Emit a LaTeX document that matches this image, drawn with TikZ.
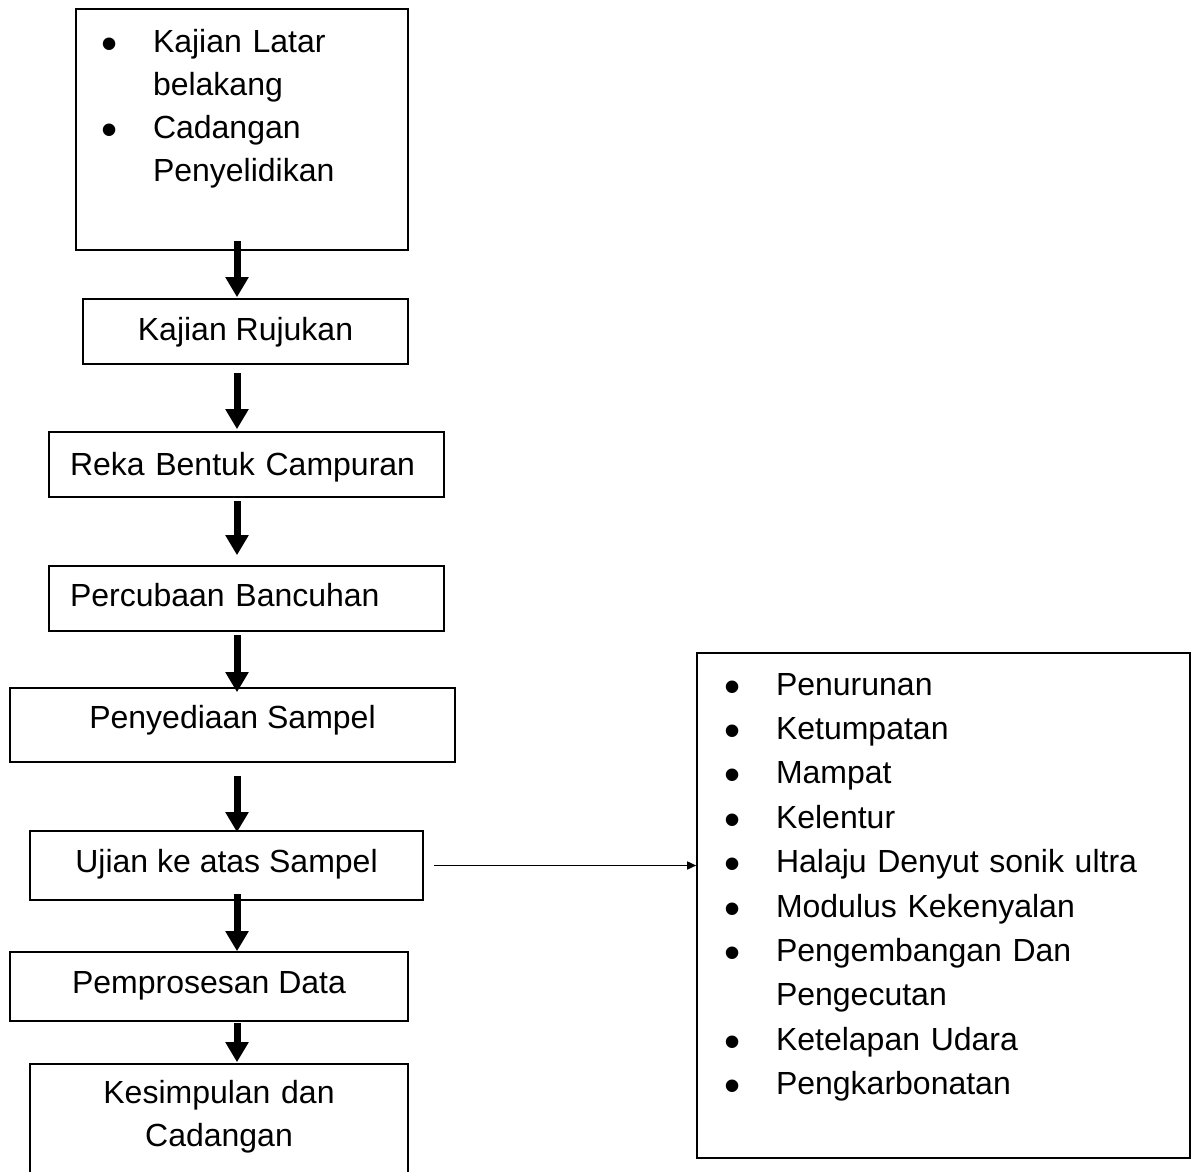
\documentclass[tikz,border=0pt]{standalone}
\usepackage{fontspec}
\setmainfont{Liberation Sans}
\usetikzlibrary{arrows.meta}
\newcommand{\blt}{\makebox[52pt][l]{\raisebox{-7pt}{\fontsize{46}{46}\selectfont\textbullet}}}

\begin{document}
\begin{tikzpicture}[x=1pt,y=-1pt,
	box/.style={draw,line width=1.6pt,inner sep=0pt,font=\fontsize{32}{43}\selectfont,text height=23pt,text depth=0pt},
	flow/.style={line width=7pt,-{Triangle[length=20pt,width=22pt]}},
	link/.style={line width=1.6pt,-{Triangle[length=9pt,width=8pt]}}]
		\useasboundingbox (0,0) rectangle (1191,1172);
		\coordinate (axis) at (237,0);
		\node[box,minimum width=332pt,minimum height=241pt,text width=282pt,inner xsep=25pt,align=left,text depth=177pt] (latar) at (242,129.5) {\blt Kajian Latar\\\hspace*{52pt}belakang\\\blt Cadangan\\\hspace*{52pt}Penyelidikan};
		\node[box,minimum width=325pt,minimum height=65pt,text depth=6pt] (rujukan) at (245.5,331.5) {Kajian Rujukan};
		\node[box,minimum width=395pt,minimum height=65pt,text width=353pt,inner xsep=21pt,align=left,text depth=2pt] (campuran) at (246.5,464.5) {Reka Bentuk Campuran};
		\node[box,minimum width=395pt,minimum height=65pt,text width=353pt,inner xsep=21pt,align=left,text depth=8pt] (bancuhan) at (246.5,598.5) {Percubaan Bancuhan};
		\node[box,minimum width=445pt,minimum height=74pt,text depth=17pt] (sampel) at (232.5,725) {Penyediaan Sampel};
		\node[box,minimum width=393pt,minimum height=69pt,text depth=10pt] (ujian) at (226.5,865.5) {Ujian ke atas Sampel};
		\node[box,minimum width=398pt,minimum height=69pt,text depth=10pt] (data) at (209,986.5) {Pemprosesan Data};
		\node[box,minimum width=378pt,minimum height=128pt,text width=338pt,inner xsep=20pt,align=center,text depth=73pt] (kesimpulan) at (219,1128) {Kesimpulan dan\\Cadangan};
		\node[box,font=\fontsize{32}{44.4}\selectfont,minimum width=493pt,minimum height=505pt,text width=439pt,inner xsep=27pt,align=left,text depth=444pt] (sifat) at (943.5,905.5) {\blt Penurunan\\\blt Ketumpatan\\\blt Mampat\\\blt Kelentur\\\blt Halaju Denyut sonik ultra\\\blt Modulus Kekenyalan\\\blt Pengembangan Dan\\\hspace*{52pt}Pengecutan\\\blt Ketelapan Udara\\\blt Pengkarbonatan};
		\draw[flow,shorten <=-10pt,shorten >=1pt] (latar.south -| axis) -- (rujukan.north -| axis);
		\draw[flow,shorten <=8pt,shorten >=2pt] (rujukan.south -| axis) -- (campuran.north -| axis);
		\draw[flow,shorten <=3pt,shorten >=10pt] (campuran.south -| axis) -- (bancuhan.north -| axis);
		\draw[flow,shorten <=3pt,shorten >=-5pt] (bancuhan.south -| axis) -- (sampel.north -| axis);
		\draw[flow,shorten <=13pt,shorten >=-2pt] (sampel.south -| axis) -- (ujian.north -| axis);
		\draw[flow,shorten <=-7pt] (ujian.south -| axis) -- (data.north -| axis);
		\draw[flow,shorten <=1pt,shorten >=1pt] (data.south -| axis) -- (kesimpulan.north -| axis);
		\draw[link,shorten <=10pt] (ujian.east) -- (ujian.east -| sifat.west);
	\end{tikzpicture}
\end{document}
